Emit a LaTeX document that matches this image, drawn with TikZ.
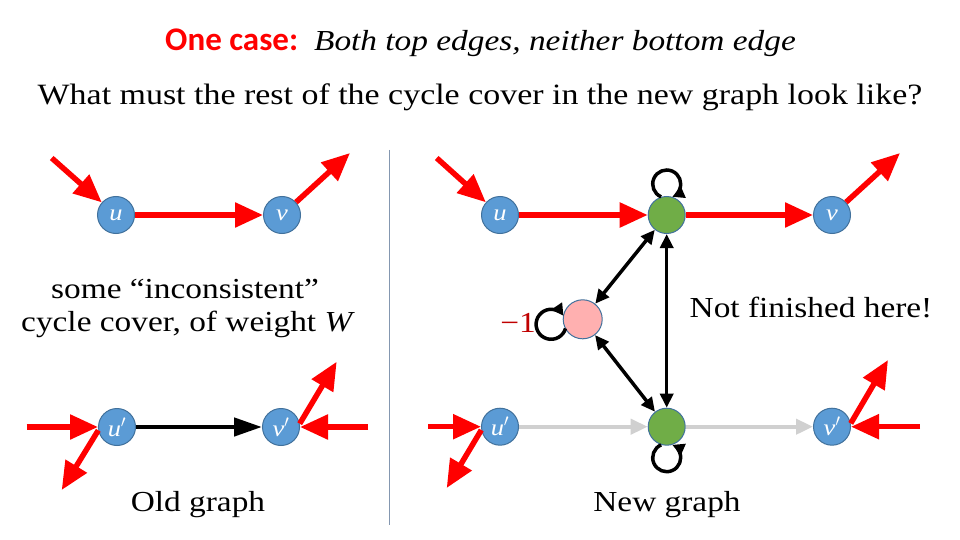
\documentclass[tikz,border=0pt]{standalone}
\usepackage{fontspec}
\setmainfont{Liberation Serif}[FakeStretch=1.15]
\newfontfamily\carlito{Carlito}
\usetikzlibrary{arrows.meta,calc}
\definecolor{nblue}{HTML}{5B9BD5}
\definecolor{nborder}{HTML}{41719C}
\definecolor{ngreen}{HTML}{70AD47}
\definecolor{npink}{HTML}{FFB0B0}
\definecolor{lgray}{HTML}{D0D0D0}
\definecolor{divc}{HTML}{8497B0}
\definecolor{darkred}{HTML}{C00000}
\tikzset{
  vert/.style={circle, minimum size=37pt, inner sep=0pt, fill=nblue, draw=nborder, line width=1pt, text=white, font=\fontsize{23}{23}\selectfont\itshape},
  gnode/.style={vert, fill=ngreen},
  pnode/.style={vert, fill=npink, minimum size=39pt},
  redarr/.style={draw=red, line width=5.5pt, -{Triangle[length=28pt,width=24pt]}},
  blkarr/.style={draw=black, line width=4.5pt, -{Triangle[length=28pt,width=18pt]}},
  grayarr/.style={draw=lgray, line width=4pt, -{Triangle[length=17pt,width=15pt]}},
  dblarr/.style={draw=black, line width=3.5pt, {Triangle[length=14pt,width=13pt]}-{Triangle[length=14pt,width=13pt]}},
  loopst/.style={draw=black, line width=3.5pt, -{Triangle[length=12pt,width=12pt]}},
  txt/.style={font=\fontsize{29}{34}\selectfont, inner sep=0pt},
  divider/.style={draw=divc, line width=1.2pt}
}
\begin{document}
\begin{tikzpicture}[x=1pt,y=1pt]
\useasboundingbox[fill=white] (0,0) rectangle (960,-540);

% title
\node[inner sep=0pt] (h1) at (480.5,-43) {{\carlito\bfseries\fontsize{33}{36}\selectfont\color{red}One case:}\hspace{16pt}{\fontsize{29}{36}\selectfont\itshape Both top edges, neither bottom edge}};
\node[txt, font=\fontsize{29.5}{34}\selectfont] (h2) at (480,-97) {What must the rest of the cycle cover in the new graph look like?};

% divider
\coordinate (dtop) at (389.3,-150);
\coordinate (dbot) at (389.3,-525);
\draw[divider] (dtop) -- (dbot);

% ---------- old graph ----------
\node[vert] (u1) at (116,-215) {u};
\node[vert] (v1) at (282,-215) {v};
\node[vert] (up1) at (117,-427) {u$'$};
\node[vert] (vp1) at (281,-427) {v$'$};

\coordinate (a1) at (51.7,-158);
\coordinate (b1) at (350,-153);
\coordinate (c1) at (26.7,-427);
\coordinate (d1) at (61.7,-490);
\coordinate (e1) at (368,-427);
\coordinate (f1) at (336.7,-361.7);

\draw[redarr] (a1) -- (u1);
\draw[redarr] (u1) -- (v1);
\draw[redarr] (v1) -- (b1);
\draw[redarr] (c1) -- (up1);
\draw[redarr] (up1.190) -- (d1);
\draw[redarr] (e1) -- (vp1);
\draw[redarr] (vp1.10) -- (f1);
\draw[blkarr] (up1) -- (vp1);

\node[txt] (t1) at (185,-289) {some “inconsistent”};
\node[txt] (t2) at (188,-324) {cycle cover, of weight \textit{W}};
\node[txt] (old) at (198,-505) {Old graph};

% ---------- new graph ----------
\node[vert] (u2) at (500,-215) {u};
\node[gnode] (g1) at (666.7,-215) {};
\node[vert] (v2) at (832,-215) {v};
\node[pnode] (p) at (582.7,-319.3) {};
\node[vert] (up2) at (500,-426.7) {u$'$};
\node[gnode] (g2) at (666.7,-426.7) {};
\node[vert] (vp2) at (832,-426.7) {v$'$};

\coordinate (a2) at (436.7,-158);
\coordinate (b2) at (900,-153);
\coordinate (c2) at (428,-426.7);
\coordinate (d2) at (446.7,-488);
\coordinate (e2) at (920,-426.7);
\coordinate (f2) at (888,-360);

\draw[redarr] (a2) -- (u2);
\draw[redarr] (u2) -- (g1);
\draw[redarr] (g1) -- (v2);
\draw[redarr] (v2) -- (b2);
\draw[redarr] (c2) -- (up2);
\draw[redarr] (up2.190) -- (d2);
\draw[redarr] (e2) -- (vp2);
\draw[redarr] (vp2.10) -- (f2);
\draw[grayarr] (up2) -- (g2);
\draw[grayarr] (g2) -- (vp2);

\draw[dblarr] (g1) -- (g2);
\draw[dblarr] (g1) -- (p);
\draw[dblarr] (p) -- (g2);

\draw[loopst] (g1) ++(-5.58,18.16) arc[start angle=246.5, end angle=-66.5, radius=14];
\draw[loopst] (g2) ++(-5.58,-18.16) arc[start angle=113.5, end angle=426.5, radius=14];
\draw[loopst] (p) ++(-17.2,-9.18) arc[start angle=-16.2, end angle=-325.8, radius=15];

\node[txt, text=darkred] (m1) at (518,-323) {−1};
\node[txt] (nf) at (811,-307) {Not finished here!};
\node[txt] (new) at (667,-505) {New graph};
\end{tikzpicture}
\end{document}
